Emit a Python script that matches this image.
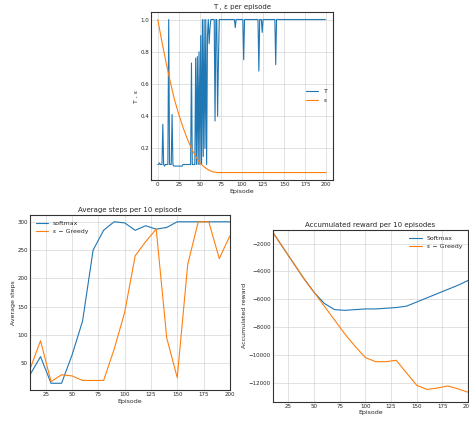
import numpy as np, pandas as pd, seaborn as sns, matplotlib
matplotlib.use("Agg")
import matplotlib.pyplot as plt

# Top: T and epsilon per episode
t_values = ([0.1,0.1,0.11,0.1,0.1,0.1,0.35,0.1,0.09,0.1,0.1,0.1,0.1,1.0,0.1,0.1,0.1,0.41,0.1,0.09]
            + [0.09,0.09,0.09,0.09,0.09,0.09,0.09,0.09,0.09,0.09,0.1,0.1,0.1,0.1,0.1,0.1,0.1,0.1,0.1,0.1]
            + [0.73,0.1,0.1,0.1,0.1,0.76,0.1,0.77,0.1,0.8,0.1,0.9,0.1,1.0,0.15,1.0,0.2,1.0,0.1,0.9]
            + [1.0,0.85,0.95,1.0,1.0,1.0,1.0,1.0,0.37,1.0,1.0,0.4,0.73,1.0,1.0,1.0,1.0,1.0,1.0,1.0]
            + [1.0]*12 + [0.95] + [1.0]*9 + [0.75] + [1.0]*17 + [0.68] + [1.0]*3 + [0.92] + [1.0]*15 + [0.72]
            + [1.0]*59)
t_episodes = list(range(len(t_values)))
eps_episodes = [0,5,10,15,20,25,30,35,40,45,50,55,60,65,70,200]
eps_values = [1.0,0.86,0.73,0.61,0.5,0.41,0.33,0.26,0.2,0.15,0.11,0.085,0.067,0.055,0.05,0.05]

# Bottom left: average steps
episodes = list(range(10, 201, 10))
steps_softmax = [30,62,15,15,65,125,250,285,300,298,285,293,287,290,300,300,300,300,300,300]
steps_greedy = [40,90,18,30,28,20,20,20,75,140,240,265,287,95,25,225,300,300,235,275]

# Bottom right: accumulated reward
reward_softmax = [-1200,-2300,-3400,-4500,-5500,-6300,-6750,-6800,-6750,-6700,-6700,-6650,-6600,-6500,-6200,-5900,-5600,-5300,-5000,-4650]
reward_greedy = [-1200,-2300,-3400,-4500,-5500,-6500,-7500,-8500,-9400,-10200,-10500,-10500,-10400,-11300,-12200,-12500,-12400,-12250,-12450,-12700]

sns.set_theme(style="whitegrid", rc={"axes.edgecolor": "0.2", "font.size": 5})
plt.rcParams['font.family'] = ['DejaVu Sans']
fs = 4.5
fig = plt.figure(figsize=(4.69, 4.24), dpi=100)
b, o = "#1f77b4", "#ff7f0e"

ax1 = fig.add_axes([0.322, 0.575, 0.388, 0.397])
sns.lineplot(x=t_episodes, y=t_values, ax=ax1, color=b, lw=0.8, label="T")
sns.lineplot(x=eps_episodes, y=eps_values, ax=ax1, color=o, lw=0.8, label="ε")
ax1.set_title("T , ε per episode", fontsize=fs+0.5, pad=2)
ax1.set_xlabel("Episode", fontsize=fs); ax1.set_ylabel("T , ε", fontsize=fs)
ax1.set_xticks([0,25,50,75,100,125,150,175,200]); ax1.set_yticks([0.2,0.4,0.6,0.8,1.0])
ax1.set_xlim(-8, 208)
ax1.legend(loc="center right", fontsize=fs, frameon=False)

ax2 = fig.add_axes([0.064, 0.08, 0.426, 0.413])
sns.lineplot(x=episodes, y=steps_softmax, ax=ax2, color=b, lw=0.8, label="softmax")
sns.lineplot(x=episodes, y=steps_greedy, ax=ax2, color=o, lw=0.8, label="ε − Greedy")
ax2.set_title("Average steps per 10 episode", fontsize=fs+0.5, pad=2)
ax2.set_xlabel("Episode", fontsize=fs); ax2.set_ylabel("Average steps", fontsize=fs)
ax2.set_xlim(10, 200); ax2.set_xticks([25,50,75,100,125,150,175,200]); ax2.set_yticks([50,100,150,200,250,300])
ax2.set_ylim(3, 312)
ax2.legend(loc="upper left", fontsize=fs, frameon=False)

ax3 = fig.add_axes([0.582, 0.052, 0.416, 0.406])
sns.lineplot(x=episodes, y=reward_softmax, ax=ax3, color=b, lw=0.8, label="Softmax")
sns.lineplot(x=episodes, y=reward_greedy, ax=ax3, color=o, lw=0.8, label="ε − Greedy")
ax3.set_title("Accumulated reward per 10 episodes", fontsize=fs+0.5, pad=2)
ax3.set_xlabel("Episode", fontsize=fs); ax3.set_ylabel("Accumulated reward", fontsize=fs)
ax3.set_xlim(10, 200); ax3.set_xticks([25,50,75,100,125,150,175,200])
ax3.set_yticks([-2000,-4000,-6000,-8000,-10000,-12000]); ax3.set_ylim(-13400, -1000)
ax3.legend(loc="upper right", fontsize=fs, frameon=False)

for ax in (ax1, ax2, ax3):
    ax.tick_params(labelsize=fs-0.5, pad=1.5, length=0)
    ax.xaxis.labelpad = 1; ax.yaxis.labelpad = 1
    for s in ax.spines.values():
        s.set_linewidth(0.8)
    ax.grid(lw=0.4)
fig.savefig("out.png", dpi=100)
